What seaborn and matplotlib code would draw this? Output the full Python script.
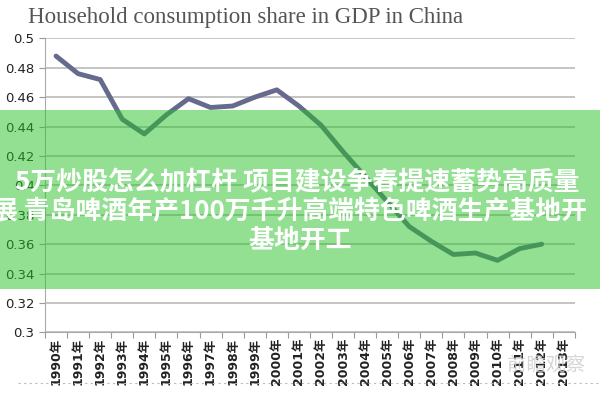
import matplotlib
matplotlib.use('Agg')
import matplotlib.pyplot as plt
import matplotlib.patches as patches
import matplotlib.ticker as mticker
import pandas as pd
import seaborn as sns

# Data
years = list(range(1990, 2013))
share = [0.488, 0.476, 0.472, 0.445, 0.435, 0.448, 0.459, 0.453, 0.454, 0.460,
         0.465, 0.454, 0.441, 0.423, 0.406, 0.389, 0.372, 0.362, 0.353, 0.354,
         0.349, 0.357, 0.360]
tick_years = list(range(1990, 2014))
y_ticks = [0.3, 0.32, 0.34, 0.36, 0.38, 0.4, 0.42, 0.44, 0.46, 0.48, 0.5]

title = 'Household consumption share in GDP in China'
banner_lines = ['5万炒股怎么加杠杆 项目建设争春提速蓄势高质量',
                '展 青岛啤酒年产100万千升高端特色啤酒生产基地开',
                '基地开工']

df = pd.DataFrame({'year': years, 'share': share})

sns.set_style('white')
plt.rcParams['font.family'] = ['DejaVu Sans', 'Noto Sans CJK SC']

fig = plt.figure(figsize=(6, 4), dpi=100)
ax = fig.add_axes([0.075, 0.169, 0.883, 0.735])

sns.lineplot(data=df, x='year', y='share', ax=ax, color='#666a8c',
             linewidth=3.5, zorder=3)

ax.set_xlim(1989.5, 2013.5)
ax.set_ylim(0.3, 0.5)
ax.set_yticks(y_ticks)
ax.yaxis.set_major_formatter(mticker.FuncFormatter(lambda v, p: f'{v:g}'))
ax.grid(axis='y', color='#c4c4c4', linewidth=1.4, zorder=1)
ax.set_axisbelow(True)

# category boundary ticks, labels centred on categories
ax.set_xticks([y - 0.5 for y in tick_years] + [2013.5])
ax.set_xticklabels([])
ax.set_xticks(tick_years, minor=True)
ax.set_xticklabels([f'{y}年' for y in tick_years], minor=True, rotation=90,
                   fontsize=9, fontweight='bold', color='#222222')
ax.tick_params(axis='x', which='major', length=4, color='#999999', direction='out', bottom=True)
ax.tick_params(axis='x', which='minor', length=0, pad=4)
ax.tick_params(axis='y', length=4, color='#999999', labelsize=9.5, left=True)
for lbl in ax.get_yticklabels():
    lbl.set_color('#222222')

ax.set_xlabel('')
ax.set_ylabel('')
for s in ['top', 'right']:
    ax.spines[s].set_visible(False)
ax.spines['left'].set_color('#aaaaaa')
ax.spines['bottom'].set_color('#aaaaaa')

fig.text(0.047, 0.957, title, fontsize=16.5, family='Liberation Serif',
         color='#555555', va='center', ha='left')

# green overlay banner
fig.add_artist(patches.Rectangle((0, 0.2775), 1, 0.4475, transform=fig.transFigure,
                                 facecolor='#28c328', alpha=0.5, edgecolor='none', zorder=10))
banner_pos = [(0.025, 0.543, 'left'), (-0.013, 0.47, 'left'), (0.5, 0.4, 'center')]
for txt, (x, y, ha) in zip(banner_lines, banner_pos):
    fig.text(x, y, txt, fontsize=18.6, fontweight='bold', color='white',
             family=['Noto Sans CJK SC', 'DejaVu Sans'], ha=ha, va='center', zorder=11)

# watermark and dotted separator
fig.add_artist(plt.Line2D([0.03, 1], [0.043, 0.043], transform=fig.transFigure,
                          color='#bbbbbb', linestyle=(0, (2, 3)), linewidth=0.8))
fig.text(0.975, 0.085, '前瞻观察', fontsize=14, color='#cccccc', alpha=0.8,
         family=['Noto Sans CJK SC'], ha='right', va='center', zorder=12)

plt.savefig('out.png', dpi=100)
plt.close()
